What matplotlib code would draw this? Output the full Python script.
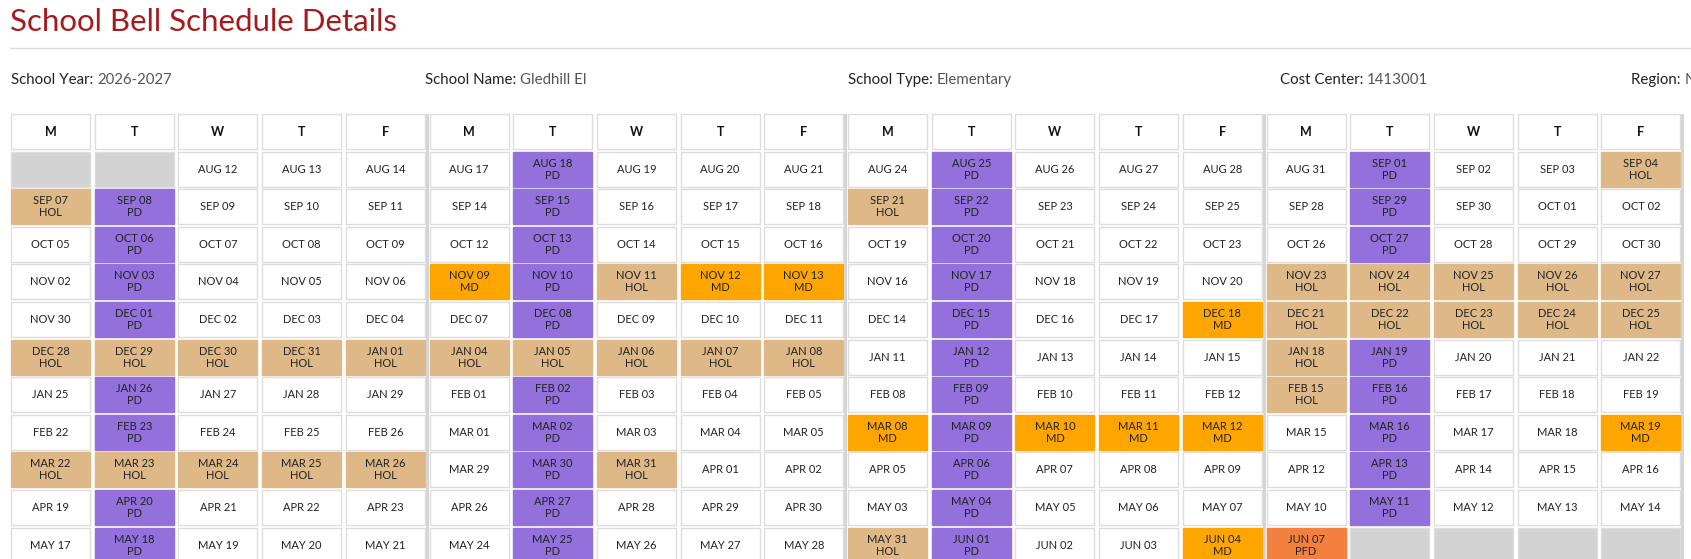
import matplotlib.pyplot as plt
from matplotlib.patches import Rectangle

days = ['M', 'T', 'W', 'T', 'F'] * 4

# each cell: "DATE|CODE", '' code = normal day, 'X' = no day
rows = [
    ['|X', '|X', 'AUG 12|', 'AUG 13|', 'AUG 14|', 'AUG 17|', 'AUG 18|PD', 'AUG 19|', 'AUG 20|', 'AUG 21|',
     'AUG 24|', 'AUG 25|PD', 'AUG 26|', 'AUG 27|', 'AUG 28|', 'AUG 31|', 'SEP 01|PD', 'SEP 02|', 'SEP 03|', 'SEP 04|HOL'],
    ['SEP 07|HOL', 'SEP 08|PD', 'SEP 09|', 'SEP 10|', 'SEP 11|', 'SEP 14|', 'SEP 15|PD', 'SEP 16|', 'SEP 17|', 'SEP 18|',
     'SEP 21|HOL', 'SEP 22|PD', 'SEP 23|', 'SEP 24|', 'SEP 25|', 'SEP 28|', 'SEP 29|PD', 'SEP 30|', 'OCT 01|', 'OCT 02|'],
    ['OCT 05|', 'OCT 06|PD', 'OCT 07|', 'OCT 08|', 'OCT 09|', 'OCT 12|', 'OCT 13|PD', 'OCT 14|', 'OCT 15|', 'OCT 16|',
     'OCT 19|', 'OCT 20|PD', 'OCT 21|', 'OCT 22|', 'OCT 23|', 'OCT 26|', 'OCT 27|PD', 'OCT 28|', 'OCT 29|', 'OCT 30|'],
    ['NOV 02|', 'NOV 03|PD', 'NOV 04|', 'NOV 05|', 'NOV 06|', 'NOV 09|MD', 'NOV 10|PD', 'NOV 11|HOL', 'NOV 12|MD', 'NOV 13|MD',
     'NOV 16|', 'NOV 17|PD', 'NOV 18|', 'NOV 19|', 'NOV 20|', 'NOV 23|HOL', 'NOV 24|HOL', 'NOV 25|HOL', 'NOV 26|HOL', 'NOV 27|HOL'],
    ['NOV 30|', 'DEC 01|PD', 'DEC 02|', 'DEC 03|', 'DEC 04|', 'DEC 07|', 'DEC 08|PD', 'DEC 09|', 'DEC 10|', 'DEC 11|',
     'DEC 14|', 'DEC 15|PD', 'DEC 16|', 'DEC 17|', 'DEC 18|MD', 'DEC 21|HOL', 'DEC 22|HOL', 'DEC 23|HOL', 'DEC 24|HOL', 'DEC 25|HOL'],
    ['DEC 28|HOL', 'DEC 29|HOL', 'DEC 30|HOL', 'DEC 31|HOL', 'JAN 01|HOL', 'JAN 04|HOL', 'JAN 05|HOL', 'JAN 06|HOL', 'JAN 07|HOL', 'JAN 08|HOL',
     'JAN 11|', 'JAN 12|PD', 'JAN 13|', 'JAN 14|', 'JAN 15|', 'JAN 18|HOL', 'JAN 19|PD', 'JAN 20|', 'JAN 21|', 'JAN 22|'],
    ['JAN 25|', 'JAN 26|PD', 'JAN 27|', 'JAN 28|', 'JAN 29|', 'FEB 01|', 'FEB 02|PD', 'FEB 03|', 'FEB 04|', 'FEB 05|',
     'FEB 08|', 'FEB 09|PD', 'FEB 10|', 'FEB 11|', 'FEB 12|', 'FEB 15|HOL', 'FEB 16|PD', 'FEB 17|', 'FEB 18|', 'FEB 19|'],
    ['FEB 22|', 'FEB 23|PD', 'FEB 24|', 'FEB 25|', 'FEB 26|', 'MAR 01|', 'MAR 02|PD', 'MAR 03|', 'MAR 04|', 'MAR 05|',
     'MAR 08|MD', 'MAR 09|PD', 'MAR 10|MD', 'MAR 11|MD', 'MAR 12|MD', 'MAR 15|', 'MAR 16|PD', 'MAR 17|', 'MAR 18|', 'MAR 19|MD'],
    ['MAR 22|HOL', 'MAR 23|HOL', 'MAR 24|HOL', 'MAR 25|HOL', 'MAR 26|HOL', 'MAR 29|', 'MAR 30|PD', 'MAR 31|HOL', 'APR 01|', 'APR 02|',
     'APR 05|', 'APR 06|PD', 'APR 07|', 'APR 08|', 'APR 09|', 'APR 12|', 'APR 13|PD', 'APR 14|', 'APR 15|', 'APR 16|'],
    ['APR 19|', 'APR 20|PD', 'APR 21|', 'APR 22|', 'APR 23|', 'APR 26|', 'APR 27|PD', 'APR 28|', 'APR 29|', 'APR 30|',
     'MAY 03|', 'MAY 04|PD', 'MAY 05|', 'MAY 06|', 'MAY 07|', 'MAY 10|', 'MAY 11|PD', 'MAY 12|', 'MAY 13|', 'MAY 14|'],
    ['MAY 17|', 'MAY 18|PD', 'MAY 19|', 'MAY 20|', 'MAY 21|', 'MAY 24|', 'MAY 25|PD', 'MAY 26|', 'MAY 27|', 'MAY 28|',
     'MAY 31|HOL', 'JUN 01|PD', 'JUN 02|', 'JUN 03|', 'JUN 04|MD', 'JUN 07|PFD', '|X', '|X', '|X', '|X'],
]

info = [('School Year:', '2026-2027'), ('School Name:', 'Gledhill El'),
        ('School Type:', 'Elementary'), ('Cost Center:', '1413001'), ('Region:', 'N')]
info_x = [11, 425, 848, 1280, 1631]

colors = {'': 'white', 'PD': '#9370DB', 'HOL': '#DEB887', 'MD': '#FFA500',
          'PFD': '#F4803F', 'X': '#D3D3D3'}

plt.rcParams['font.family'] = ['Lato', 'DejaVu Sans']
fig = plt.figure(figsize=(16.91, 5.59), dpi=100)
ax = fig.add_axes([0, 0, 1, 1])
ax.set_xlim(0, 1691)
ax.set_ylim(559, 0)
ax.axis('off')

ax.text(10, 22, 'School Bell Schedule Details', color='#A8191C', fontsize=22.5, va='center')
ax.plot([10, 1691], [48, 48], color='#DDDDDD', lw=1)
for (lab, val), x in zip(info, info_x):
    t = ax.text(x, 80, lab + ' ', fontsize=10.8, color='#222222', va='center')
    fig.canvas.draw()
    bb = t.get_window_extent().transformed(ax.transData.inverted())
    ax.text(bb.x1, 80, val, fontsize=10.8, color='#555555', va='center', clip_on=True)

x0, pitch, cw = 11, 83.7, 79
y0, rp, rh = 114, 37.6, 35
for c in range(20):
    x = x0 + c * pitch
    ax.add_patch(Rectangle((x, y0), cw, rh, fc='white', ec='#DDDDDD', lw=1))
    ax.text(x + cw / 2, y0 + rh / 2, days[c], ha='center', va='center',
            fontsize=9, fontweight='bold', color='#111111')
    for r, row in enumerate(rows):
        date, code = row[c].split('|')
        y = y0 + (r + 1) * rp
        fc = colors[code]
        ax.add_patch(Rectangle((x, y), cw, rh, fc=fc, ec='#DDDDDD' if code in ('', 'X') else fc, lw=1))
        if code == '':
            ax.text(x + cw / 2, y + rh / 2, date, ha='center', va='center', fontsize=8, color='#222222')
        elif code != 'X':
            ax.text(x + cw / 2, y + rh / 2, date + '\n' + code, ha='center', va='center',
                    fontsize=8, color='#222222', linespacing=1.1)
    if c % 5 == 4:
        ax.add_patch(Rectangle((x + cw + 1, y0), 3, 12 * rp, fc='#D5D5D5', ec='none'))

fig.savefig('out.png', dpi=100)
